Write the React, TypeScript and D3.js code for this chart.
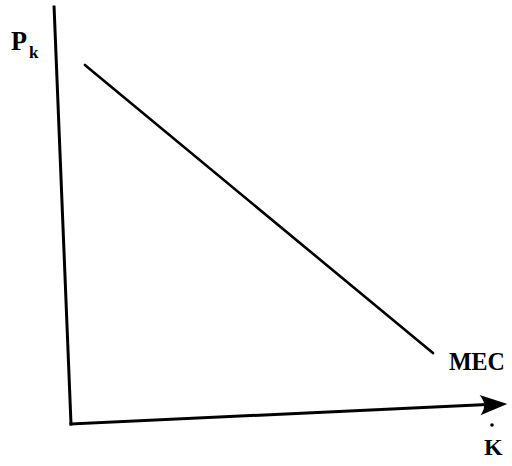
import React from "react";
import * as d3 from "d3";

type Pt = { x: number; y: number };

// Data (abstract units)
const yAxisPoints: Pt[] = [
  { x: -0.39, y: 10 },
  { x: 0, y: 0 },
];
const xAxisPoints: Pt[] = [
  { x: 0, y: 0 },
  { x: 10, y: 0.48 },
];
const mecPoints: Pt[] = [
  { x: 0.32, y: 8.61 },
  { x: 8.34, y: 1.7 },
];
const curveLabel = "MEC";
const yLabel = "P";
const ySub = "k";
const xLabel = "K";

const W = 512;
const H = 466;

export default function App() {
  const x = d3.scaleLinear().domain([0, 10]).range([71, 505]);
  const y = d3.scaleLinear().domain([0, 10]).range([424, 7]);
  const line = d3
    .line<Pt>()
    .x((d) => x(d.x))
    .y((d) => y(d.y));

  const tip = xAxisPoints[1];
  const tx = x(tip.x);
  const ty = y(tip.y);
  const ang = Math.atan2(y(xAxisPoints[1].y) - y(xAxisPoints[0].y), x(xAxisPoints[1].x) - x(xAxisPoints[0].x));
  const rot = (dx: number, dy: number) => {
    const c = Math.cos(ang), s = Math.sin(ang);
    return [tx + dx * c - dy * s, ty + dx * s + dy * c];
  };
  const b1 = rot(-23, -8.5);
  const b2 = rot(-23, 8.5);
  const n = rot(-17, 0);
  const arrow = `M${tx},${ty} L${b1[0]},${b1[1]} Q${n[0]},${n[1]} ${b2[0]},${b2[1]} Z`;

  const mecEnd = mecPoints[1];
  const font = "'Liberation Serif', 'DejaVu Serif', serif";

  return (
    <svg
      width={W}
      height={H}
      style={{ position: "absolute", left: 0, top: 0, background: "#fff" }}
    >
      <rect width={W} height={H} fill="#fff" />
      <path d={line(yAxisPoints) || ""} stroke="#000" strokeWidth={3} fill="none" strokeLinecap="square" />
      <path d={line(xAxisPoints.map((p, i) => (i === 1 ? { x: p.x - 0.2, y: p.y } : p))) || ""} stroke="#000" strokeWidth={3} fill="none" strokeLinecap="square" />
      <path d={arrow} fill="#000" stroke="#000" strokeWidth={1.5} strokeLinejoin="miter" />
      <path d={line(mecPoints) || ""} stroke="#000" strokeWidth={2.6} fill="none" strokeLinecap="round" />
      <text
        x={x(mecEnd.x) + 16}
        y={y(mecEnd.y) + 17}
        fontFamily={font}
        fontWeight="bold"
        fontSize={25}
        textLength={56}
        lengthAdjust="spacingAndGlyphs"
      >
        {curveLabel}
      </text>
      <text x={11} y={50} fontFamily={font} fontWeight="bold" fontSize={27} textLength={16} lengthAdjust="spacingAndGlyphs">
        {yLabel}
      </text>
      <text x={29} y={58} fontFamily={font} fontWeight="bold" fontSize={17}>
        {ySub}
      </text>
      <text x={484} y={455} fontFamily={font} fontWeight="bold" fontSize={24}>
        {xLabel}
      </text>
      <circle cx={492} cy={425} r={1.8} fill="#000" />
    </svg>
  );
}
